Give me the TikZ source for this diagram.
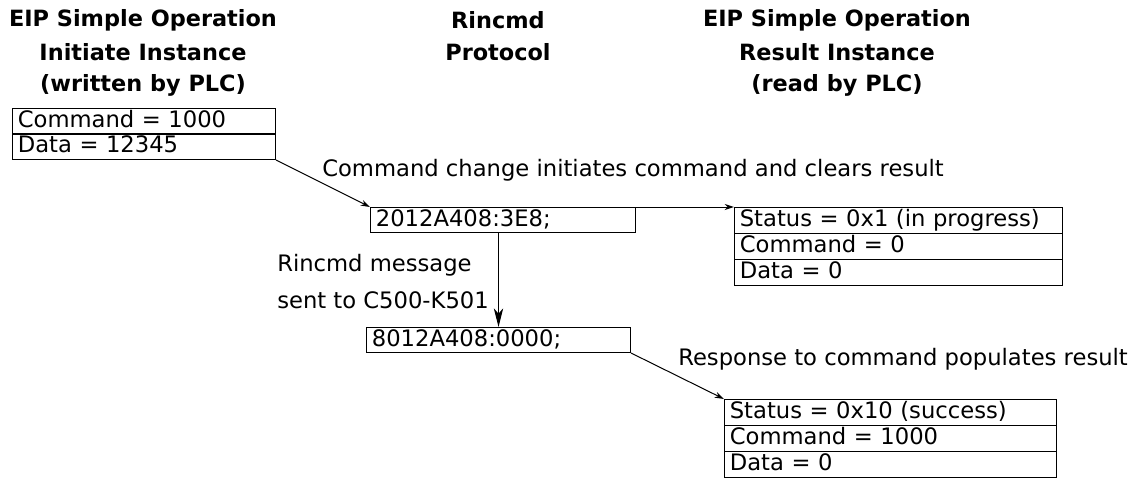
\documentclass[tikz,border=0pt]{standalone}
\usepackage{fontspec}
\setmainfont{DejaVu Sans}
\usetikzlibrary{arrows.meta}
\tikzset{
  every node/.style={font=\fontsize{17pt}{20pt}\selectfont},
  cell/.style={draw, line width=0.75pt, anchor=north west, inner xsep=4pt, inner ysep=0pt, align=left, text height=12.5pt, text depth=3.5pt},
  ttl/.style={font=\fontsize{16.8pt}{20pt}\selectfont\bfseries, anchor=center, inner sep=0pt},
  lbl/.style={anchor=west, inner sep=0pt},
  sarrow/.style={line width=0.75pt, -{Stealth[length=7pt,width=4.5pt]}},
  barrow/.style={line width=0.75pt, -{Stealth[length=14pt,width=7pt,inset=4pt]}}
}
\begin{document}
\begin{tikzpicture}[x=0.75pt, y=-0.75pt]
\useasboundingbox (0,0) rectangle (1134,479);
% titles
\node[ttl] (t1) at (143,20) {EIP Simple Operation};
\node[ttl] (t2) at (143,52) {Initiate Instance};
\node[ttl] (t3) at (143,85) {(written by PLC)};
\node[ttl] (m1) at (498,20) {Rincmd};
\node[ttl] (m2) at (498,52) {Protocol};
\node[ttl] (r1) at (837,20) {EIP Simple Operation};
\node[ttl] (r2) at (837,52) {Result Instance};
\node[ttl] (r3) at (837,85) {(read by PLC)};
% left box
\node[cell, text width=189.25pt, minimum height=19.1pt] (L1) at (12,108) {Command = 1000};
\node[cell, text width=189.25pt, minimum height=19.1pt] (L2) at (12,133.5) {Data = 12345};
% protocol boxes
\node[cell, text width=190.75pt, minimum height=18.75pt] (A) at (370,207) {2012A408:3E8;};
\node[cell, text width=190pt, minimum height=18.75pt] (B) at (366,327) {8012A408:0000;};
% right box 1
\node[cell, text width=238pt, minimum height=19.5pt] (R1a) at (734,207) {Status = 0x1 (in progress)};
\node[cell, text width=238pt, minimum height=19.5pt] (R1b) at (734,233) {Command = 0};
\node[cell, text width=238pt, minimum height=19.5pt] (R1c) at (734,259) {Data = 0};
% right box 2
\node[cell, text width=241pt, minimum height=19.3pt] (R2a) at (724,399) {Status = 0x10 (success)};
\node[cell, text width=241pt, minimum height=19.3pt] (R2b) at (724,425) {Command = 1000};
\node[cell, text width=241pt, minimum height=19.3pt] (R2c) at (724,451) {Data = 0};
% labels
\node[lbl] (c1) at (322,170) {Command change initiates command and clears result};
\node[lbl] (c2) at (277,265) {Rincmd message};
\node[lbl] (c3) at (277,300) {sent to C500-K501};
\node[lbl] (c4) at (678,359) {Response to command populates result};
% connectors
\draw[sarrow] (L2.south east) -- (A.north west);
\draw[sarrow] (A.north east) -- (R1a.north west);
\coordinate (a3) at (A.south -| B.north);
\draw[barrow] (a3) -- (B.north);
\draw[sarrow] (B.south east) -- (R2a.north west);
\end{tikzpicture}
\end{document}
